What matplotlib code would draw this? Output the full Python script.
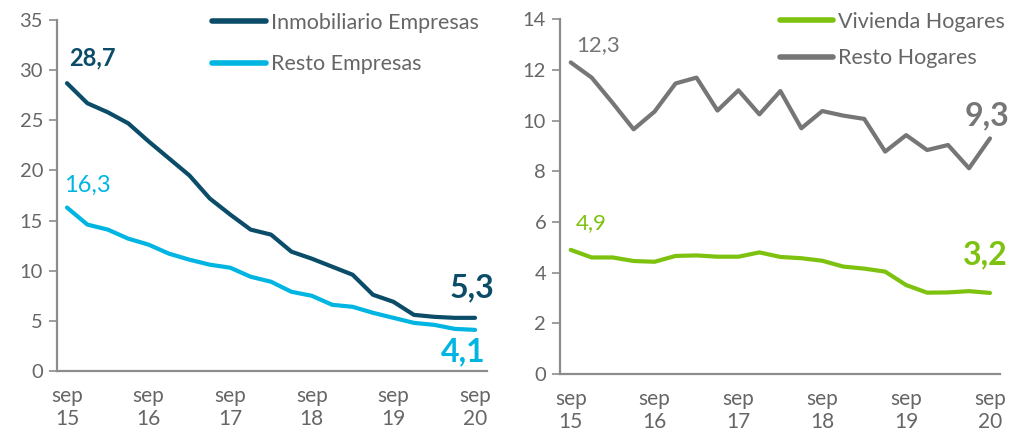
import matplotlib
matplotlib.use("Agg")
import matplotlib.pyplot as plt

# quarterly NPL ratios (%), sep 15 .. sep 20
quarters = list(range(21))
tick_pos = [0, 4, 8, 12, 16, 20]
tick_labels = ["sep\n15", "sep\n16", "sep\n17", "sep\n18", "sep\n19", "sep\n20"]

inmob_empresas = [28.7, 26.7, 25.8, 24.7, 22.9, 21.2, 19.5, 17.2, 15.6, 14.1, 13.6,
                  11.9, 11.2, 10.4, 9.6, 7.6, 6.9, 5.6, 5.4, 5.3, 5.3]
resto_empresas = [16.3, 14.6, 14.1, 13.2, 12.6, 11.7, 11.1, 10.6, 10.3, 9.4, 8.9,
                  7.9, 7.5, 6.6, 6.4, 5.8, 5.3, 4.8, 4.6, 4.2, 4.1]
vivienda_hogares = [4.9, 4.6, 4.6, 4.46, 4.43, 4.66, 4.68, 4.63, 4.63, 4.8, 4.62,
                    4.57, 4.47, 4.24, 4.16, 4.04, 3.51, 3.21, 3.22, 3.27, 3.2]
resto_hogares = [12.3, 11.7, 10.7, 9.66, 10.36, 11.47, 11.7, 10.4, 11.2, 10.25, 11.17,
                 9.7, 10.38, 10.2, 10.07, 8.78, 9.43, 8.84, 9.04, 8.12, 9.3]

plt.rcParams["font.family"] = ["Lato", "DejaVu Sans"]

C_DARK = "#0b4d68"
C_CYAN = "#00b5e2"
C_GREEN = "#7dc20e"
C_GRAY = "#767676"
C_AXIS = "#8c8c8c"
C_TEXT = "#666666"

fig = plt.figure(figsize=(10.12, 4.33), dpi=100)
ax1 = fig.add_axes([0.0563, 0.1432, 0.425, 0.8106])
ax2 = fig.add_axes([0.5534, 0.1363, 0.4348, 0.819])


def style_axis(ax, ymax, ystep, xlim):
    ax.set_xlim(*xlim)
    ax.set_ylim(0, ymax)
    ax.set_yticks(range(0, ymax + 1, ystep))
    ax.set_xticks(tick_pos)
    ax.set_xticklabels(tick_labels, linespacing=1.2)
    for s in ["top", "right"]:
        ax.spines[s].set_visible(False)
    for s in ["left", "bottom"]:
        ax.spines[s].set_color(C_AXIS)
        ax.spines[s].set_linewidth(1.6)
    ax.tick_params(axis="y", length=6, width=1.2, color=C_AXIS, labelsize=14.5,
                   labelcolor=C_TEXT, pad=4)
    ax.tick_params(axis="x", length=0, labelsize=15, labelcolor=C_TEXT, pad=11)


lw = 3.0
ax1.plot(quarters, inmob_empresas, color=C_DARK, lw=lw, label="Inmobiliario Empresas",
         solid_capstyle="round", solid_joinstyle="round")
ax1.plot(quarters, resto_empresas, color=C_CYAN, lw=lw, label="Resto Empresas",
         solid_capstyle="round", solid_joinstyle="round")
style_axis(ax1, 35, 5, (-0.49, 20.59))

ax2.plot(quarters, vivienda_hogares, color=C_GREEN, lw=lw, label="Vivienda Hogares",
         solid_capstyle="round", solid_joinstyle="round")
ax2.plot(quarters, resto_hogares, color=C_GRAY, lw=lw, label="Resto Hogares",
         solid_capstyle="round", solid_joinstyle="round")
style_axis(ax2, 14, 2, (-0.51, 20.48))

for ax, anchor, sp in [(ax1, (1.0, 1.045), 1.0), (ax2, (1.03, 1.045), 0.75)]:
    leg = ax.legend(loc="upper right", bbox_to_anchor=anchor, frameon=False, fontsize=15.5,
                    handlelength=2.5, handletextpad=0.2, labelspacing=sp, borderaxespad=0)
    for t in leg.get_texts():
        t.set_color(C_TEXT)
    for h in leg.get_lines():
        h.set_linewidth(4)


def label(ax, series, i, txt, dx, dy, color, size, bold):
    # offsets given in pixels, converted to points
    ax.annotate(txt, xy=(quarters[i], series[i]), xytext=(dx * 0.72, dy * 0.72),
                textcoords="offset points", ha="center", va="center", color=color,
                fontsize=size, fontweight="bold" if bold else "normal")


label(ax1, inmob_empresas, 0, "28,7", 25, 25, C_DARK, 17, True)
label(ax1, resto_empresas, 0, "16,3", 20, 22, C_CYAN, 17, False)
label(ax1, inmob_empresas, 20, "5,3", -3, 30, C_DARK, 23, True)
label(ax1, resto_empresas, 20, "4,1", -12, -22, C_CYAN, 23, True)
label(ax2, resto_hogares, 0, "12,3", 27, 17, C_GRAY, 16, False)
label(ax2, vivienda_hogares, 0, "4,9", 20, 27, C_GREEN, 16, False)
label(ax2, resto_hogares, 20, "9,3", -3, 23, C_GRAY, 23, True)
label(ax2, vivienda_hogares, 20, "3,2", -5, 38, C_GREEN, 23, True)

fig.savefig("out.png", dpi=100)
